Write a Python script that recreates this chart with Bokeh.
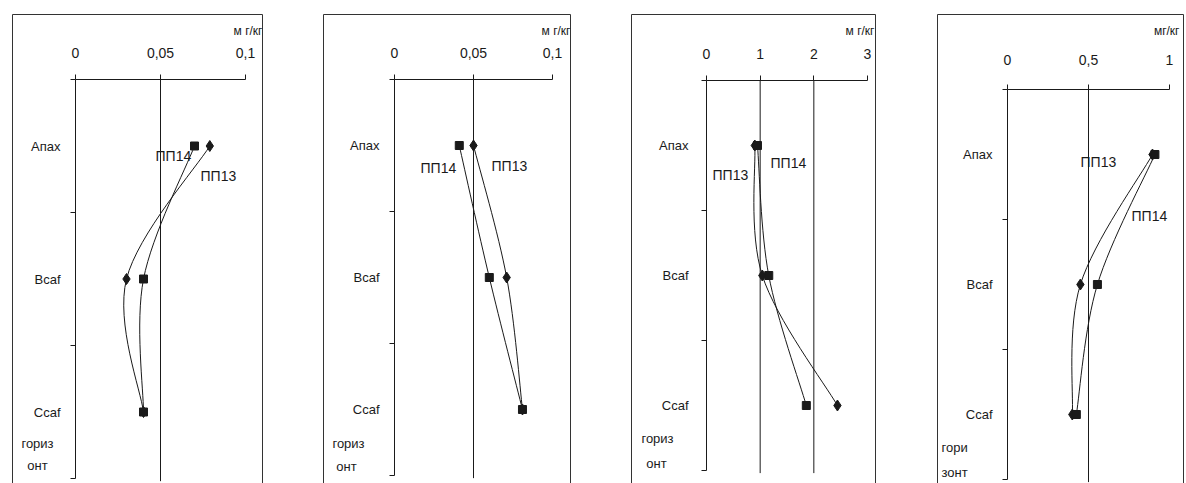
from bokeh.plotting import figure
from bokeh.layouts import row
from bokeh.models import Range1d, FixedTicker, CustomJSTickFormatter, Label, GlobalInlineStyleSheet
from bokeh.embed import file_html
from bokeh.resources import INLINE

# ---------------- data ----------------
categories = ["Апах", "Bcaf", "Ccaf"]
series_names = ["ПП13", "ПП14"]
horizon_label = ["гориз", "онт"]
horizon_label4 = ["гори", "зонт"]

p1_ticks = [0, 0.05, 0.1]
p1_pp13 = [0.079, 0.030, 0.040]
p1_pp14 = [0.070, 0.040, 0.040]

p2_ticks = [0, 0.05, 0.1]
p2_pp13 = [0.050, 0.071, 0.081]
p2_pp14 = [0.041, 0.060, 0.081]

p3_ticks = [0, 1, 2, 3]
p3_pp13 = [0.90, 1.04, 2.44]
p3_pp14 = [0.95, 1.16, 1.86]

p4_ticks = [0, 0.5, 1]
p4_pp13 = [0.895, 0.45, 0.40]
p4_pp14 = [0.91, 0.555, 0.425]

unit_labels = ["м г/кг", "м г/кг", "м г/кг", "мг/кг"]

# ---------------- layout (page pixel geometry) ----------------
FONT = "Liberation Sans"
INK = "#1a1a1a"
PAGE_TOP = 0
FRAME_TOP = 14
FRAME_BOTTOM = 492

panels = [
    dict(ticks=p1_ticks, s13=p1_pp13, s14=p1_pp14, unit=unit_labels[0], hz=horizon_label,
         fig_left=0, frame_left=12, frame_right=263, x0=75, xmax=245, axis_y=79, band=133,
         lab13=(200, 175), lab14=(155, 155), hz_pos=[(37, 443, "center"), (37, 465, "center")],
         unit_pos=(262, 30), standoff=17),
    dict(ticks=p2_ticks, s13=p2_pp13, s14=p2_pp14, unit=unit_labels[1], hz=horizon_label,
         fig_left=263, frame_left=323, frame_right=571, x0=394, xmax=552, axis_y=79, band=132,
         lab13=(491, 165), lab14=(420, 167), hz_pos=[(348, 443, "center"), (346, 466, "center")],
         unit_pos=(570, 30), standoff=17),
    dict(ticks=p3_ticks, s13=p3_pp13, s14=p3_pp14, unit=unit_labels[2], hz=horizon_label,
         fig_left=571, frame_left=631, frame_right=876, x0=706, xmax=867, axis_y=80, band=130,
         lab13=(712, 174), lab14=(770, 162), hz_pos=[(657, 438, "center"), (656, 463, "center")],
         unit_pos=(874, 30), standoff=17),
    dict(ticks=p4_ticks, s13=p4_pp13, s14=p4_pp14, unit=unit_labels[3], hz=horizon_label4,
         fig_left=876, frame_left=937, frame_right=1184, x0=1007, xmax=1169, axis_y=89, band=130,
         lab13=(1080, 161), lab14=(1131, 215), hz_pos=[(941, 447, "left"), (941, 472, "left")],
         unit_pos=(1179, 30), standoff=20),
]


def smooth_segments(xs, ys):
    """Catmull-Rom style bezier control points (Excel-like smoothed line)."""
    n = len(xs)
    out = dict(x0=[], y0=[], x1=[], y1=[], cx0=[], cy0=[], cx1=[], cy1=[])
    for i in range(n - 1):
        a = max(i - 1, 0)
        d = min(i + 2, n - 1)
        out["x0"].append(xs[i]); out["y0"].append(ys[i])
        out["x1"].append(xs[i + 1]); out["y1"].append(ys[i + 1])
        out["cx0"].append(xs[i] + (xs[i + 1] - xs[a]) / 6.0)
        out["cy0"].append(ys[i] + (ys[i + 1] - ys[a]) / 6.0)
        out["cx1"].append(xs[i + 1] - (xs[d] - xs[i]) / 6.0)
        out["cy1"].append(ys[i + 1] - (ys[d] - ys[i]) / 6.0)
    return out


figs = []
for k, pn in enumerate(panels):
    tmax = pn["ticks"][-1]
    ppu = (pn["xmax"] - pn["x0"]) / tmax  # pixels per unit
    band = pn["band"]
    px2x = lambda px, pn=pn, ppu=ppu: (px - pn["x0"]) / ppu
    px2y = lambda py, pn=pn, band=band: (py - pn["axis_y"]) / band

    x_start = px2x(pn["frame_left"])
    x_end = px2x(pn["frame_right"])
    y_top = px2y(FRAME_TOP)
    y_bottom = px2y(FRAME_BOTTOM)

    width = pn["frame_right"] - pn["fig_left"]
    p = figure(width=width, height=FRAME_BOTTOM - PAGE_TOP,
               x_range=Range1d(x_start, x_end), y_range=Range1d(y_bottom, y_top),
               x_axis_location="above", y_axis_location="left",
               output_backend="svg", toolbar_location=None,
               min_border_left=pn["frame_left"] - pn["fig_left"], min_border_right=0,
               min_border_top=FRAME_TOP - PAGE_TOP, min_border_bottom=0)
    p.grid.visible = False
    p.background_fill_color = "white"
    p.border_fill_color = "white"
    p.outline_line_color = "#333333"
    p.outline_line_width = 1

    ncat = len(categories)
    ycat = [i + 0.5 for i in range(ncat)]

    # top value axis
    xa = p.xaxis[0]
    xa.fixed_location = 0
    xa.bounds = (0, tmax)
    xa.ticker = FixedTicker(ticks=pn["ticks"], minor_ticks=[])
    xa.formatter = CustomJSTickFormatter(code="return tick.toString().replace('.', ',')")
    xa.major_tick_out = 5
    xa.major_tick_in = 0
    xa.minor_tick_out = 0
    xa.minor_tick_in = 0
    xa.axis_line_color = INK
    xa.major_tick_line_color = INK
    xa.major_label_text_font = FONT
    xa.major_label_text_font_size = "14px"
    xa.major_label_text_color = INK
    xa.major_label_standoff = pn["standoff"]

    # left category axis
    ya = p.yaxis[0]
    ya.fixed_location = 0
    ya.bounds = (0, ncat)
    ya.ticker = FixedTicker(ticks=ycat, minor_ticks=list(range(ncat + 1)))
    ya.major_label_overrides = {yv: c for yv, c in zip(ycat, categories)}
    ya.major_tick_out = 0
    ya.major_tick_in = 0
    ya.minor_tick_out = 5
    ya.minor_tick_in = 0
    ya.axis_line_color = INK
    ya.minor_tick_line_color = INK
    ya.major_label_text_font = FONT
    ya.major_label_text_font_size = "13px"
    ya.major_label_text_color = INK
    ya.major_label_standoff = 10 if k != 2 else 13

    # vertical reference lines at interior ticks
    gx = pn["ticks"][1:-1]
    p.segment(x0=gx, y0=[0] * len(gx), x1=gx, y1=[ncat + 0.02] * len(gx),
              line_color=INK, line_width=1)

    # smoothed series lines
    for vals in (pn["s13"], pn["s14"]):
        seg = smooth_segments(vals, ycat)
        p.bezier(x0=seg["x0"], y0=seg["y0"], x1=seg["x1"], y1=seg["y1"],
                 cx0=seg["cx0"], cy0=seg["cy0"], cx1=seg["cx1"], cy1=seg["cy1"],
                 line_color=INK, line_width=1)

    p.scatter(x=pn["s13"], y=ycat, marker="diamond", size=11, fill_color=INK, line_color=INK)
    p.scatter(x=pn["s14"], y=ycat, marker="square", size=8, fill_color=INK, line_color=INK)

    # series labels
    for name, pos in zip(series_names, (pn["lab13"], pn["lab14"])):
        p.add_layout(Label(x=px2x(pos[0]), y=px2y(pos[1]), text=name,
                           text_font=FONT, text_font_size="14px", text_color=INK,
                           text_align="left", text_baseline="middle"))

    # unit label
    p.add_layout(Label(x=px2x(pn["unit_pos"][0]), y=px2y(pn["unit_pos"][1]), text=pn["unit"],
                       text_font=FONT, text_font_size="12px", text_color=INK,
                       text_align="right", text_baseline="middle"))

    # "horizon" caption
    for txt, (hx, hy, al) in zip(pn["hz"], pn["hz_pos"]):
        p.add_layout(Label(x=px2x(hx), y=px2y(hy), text=txt,
                           text_font=FONT, text_font_size="13px", text_color=INK,
                           text_align=al, text_baseline="middle"))
    figs.append(p)

layout = row(*figs, spacing=0,
             stylesheets=[GlobalInlineStyleSheet(css="html, body { overflow: hidden; }")])

open("out.html", "w").write(file_html(layout, INLINE))
